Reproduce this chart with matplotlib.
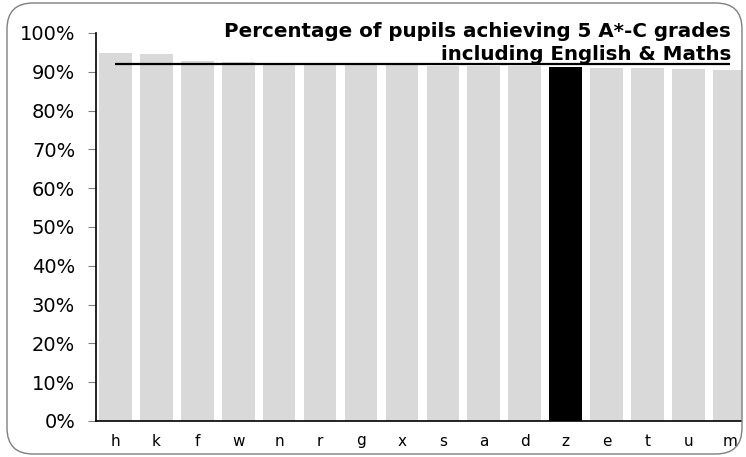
import matplotlib
matplotlib.use("Agg")
import matplotlib.pyplot as plt
from matplotlib.patches import FancyBboxPatch
from matplotlib.ticker import PercentFormatter

# Daten
schools = ["h", "k", "f", "w", "n", "r", "g", "x", "s", "a", "d", "z", "e", "t", "u", "m"]
pct = [94.8, 94.6, 92.7, 92.4, 91.8, 91.8, 91.8, 91.8, 91.5, 91.5, 91.5, 91.3, 91.0, 90.9, 90.7, 90.5]
highlight = "z"
average = 92.1
title_lines = ["Percentage of pupils achieving 5 A*-C grades", "including English & Maths"]

plt.rcParams['font.family'] = ['DejaVu Sans']

W, H = 746, 457
fig = plt.figure(figsize=(W / 100, H / 100), dpi=100)
ax = fig.add_axes([96 / W, (H - 421) / H, (W - 96) / W, (421 - 33) / H])

# Rahmen mit runden Ecken
border = FancyBboxPatch((7 / W, 3 / H), (742 - 7) / W, (454 - 3) / H,
                        boxstyle="round,pad=0,rounding_size=0.035",
                        transform=fig.transFigure, fill=False,
                        edgecolor="#7f7f7f", linewidth=1.0, zorder=10,
                        mutation_aspect=W / H)
fig.patches.append(border)

colors = ["black" if s == highlight else "#d9d9d9" for s in schools]
bars = ax.bar(range(len(schools)), [v / 100 for v in pct], width=0.8, color=colors, zorder=2)
for b in bars:
    b.set_clip_path(border)

# Durchschnittslinie
ax.hlines(average / 100, 0, len(schools) - 1, color="black", linewidth=1.6, zorder=3)

ax.set_xlim(-0.47, 15.4)
ax.set_ylim(0, 1)
ax.set_yticks([i / 10 for i in range(11)])
ax.yaxis.set_major_formatter(PercentFormatter(1.0, decimals=0))
ax.set_xticks(range(len(schools)))
ax.set_xticklabels(schools)

ax.tick_params(axis="y", length=6, color="#808080", pad=9, labelsize=14)
ax.tick_params(axis="x", length=0, pad=9, labelsize=11)
for side in ["top", "right"]:
    ax.spines[side].set_visible(False)
ax.spines["left"].set_linewidth(1.2)
ax.spines["bottom"].set_linewidth(1.2)
ax.spines["bottom"].set_clip_path(border)

# Titel
fig.text(731 / W, 1 - 37 / H, title_lines[0], ha="right", va="baseline",
         fontsize=14.3, fontweight="bold", zorder=5)
fig.text(731 / W, 1 - 60 / H, title_lines[1], ha="right", va="baseline",
         fontsize=14.3, fontweight="bold", zorder=5)

fig.savefig("out.png", dpi=100)
